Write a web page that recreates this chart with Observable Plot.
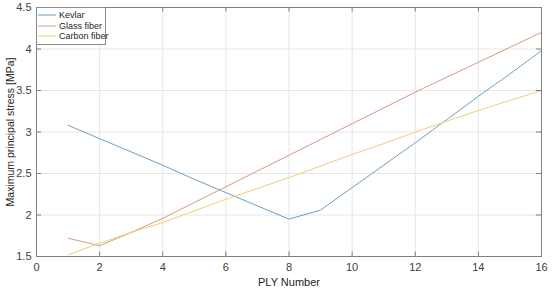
<!DOCTYPE html>
<html>
<head>
<meta charset="utf-8">
<script src="https://cdn.jsdelivr.net/npm/d3@7"></script>
<script src="https://cdn.jsdelivr.net/npm/@observablehq/plot@0.6"></script>
<style>
  html, body { margin: 0; padding: 0; background: #fff; }
  #wrap { position: relative; width: 552px; height: 291px; font-family: "Liberation Sans", Arial, sans-serif; }
  #legend { position: absolute; left: 36px; top: 7px; width: 70px; box-sizing: border-box; background: #fff; border: 1px solid #8a8a8a; font-size: 9px; color: #262626; padding: 2px 0 2px 0; white-space: nowrap; }
  .item { display: flex; align-items: center; height: 10.5px; }
  .item svg { width: 18px; height: 8px; margin: 0 3px 0 1px; flex: none; }
</style>
</head>
<body>
<div id="wrap"></div>
<script>
const plyNumbers = [1,2,3,4,5,6,7,8,9,10,11,12,13,14,15,16];
const kevlar  = [3.08,2.92,2.76,2.60,2.43,2.27,2.11,1.95,2.06,2.33,2.60,2.87,3.15,3.43,3.70,3.98];
const glass   = [1.72,1.63,1.79,1.96,2.15,2.34,2.53,2.72,2.91,3.10,3.29,3.48,3.66,3.84,4.02,4.20];
const carbon  = [1.52,1.66,1.79,1.91,2.05,2.19,2.32,2.45,2.59,2.73,2.86,3.00,3.13,3.26,3.38,3.50];
const seriesNames = ["Kevlar","Glass fiber","Carbon fiber"];
const seriesColors = ["#6aa0c8","#d99a80","#efcf78"];
const xTicks = [0,2,4,6,8,10,12,14,16];
const yTicks = [1.5,2,2.5,3,3.5,4,4.5];

const rows = [];
[kevlar, glass, carbon].forEach((vals, s) => {
  plyNumbers.forEach((p, i) => rows.push({ply: p, stress: vals[i], series: seriesNames[s]}));
});

const gridColor = "#e6e6e6";
const chart = Plot.plot({
  width: 552,
  height: 291,
  marginLeft: 36,
  marginRight: 11,
  marginTop: 7,
  marginBottom: 35,
  style: {fontFamily: "'Liberation Sans', Arial, sans-serif", fontSize: "11px", color: "#404040", background: "#fff"},
  x: {domain: [0, 16], label: null},
  y: {domain: [1.5, 4.5], label: null},
  color: {domain: seriesNames, range: seriesColors},
  marks: [
    Plot.ruleX(xTicks, {x: d => d, stroke: gridColor, strokeWidth: 1}),
    Plot.ruleY(yTicks, {y: d => d, stroke: gridColor, strokeWidth: 1}),
    Plot.line(rows, {x: "ply", y: "stress", z: "series", stroke: "series", strokeWidth: 1}),
    Plot.frame({stroke: "#808080", strokeWidth: 1}),
    Plot.ruleX(xTicks, {x: d => d, y1: 1.5, y2: 1.555, stroke: "#808080"}),
    Plot.ruleX(xTicks, {x: d => d, y1: 4.445, y2: 4.5, stroke: "#808080"}),
    Plot.ruleY(yTicks, {y: d => d, x1: 0, x2: 0.16, stroke: "#808080"}),
    Plot.ruleY(yTicks, {y: d => d, x1: 15.84, x2: 16, stroke: "#808080"}),
    Plot.axisX(xTicks, {tickSize: 0, tickPadding: 7, fill: "#404040", fontSize: 11, label: null}),
    Plot.axisY(yTicks, {tickSize: 0, tickPadding: 5, fill: "#404040", fontSize: 11, label: null, tickFormat: d => String(d)}),
    Plot.text(["PLY Number"], {frameAnchor: "bottom", dy: 29, fill: "#262626", fontSize: 11}),
    Plot.text(["Maximum principal stress [MPa]"], {frameAnchor: "left", textAnchor: "middle", dx: -26, rotate: -90, fill: "#262626", fontSize: 10.5})
  ]
});
const wrap = document.getElementById("wrap");
wrap.appendChild(chart);

const legend = document.createElement("div");
legend.id = "legend";
seriesNames.forEach((name, i) => {
  const it = document.createElement("div");
  it.className = "item";
  it.innerHTML = `<svg viewBox="0 0 18 8"><line x1="0" y1="4" x2="18" y2="4" stroke="${seriesColors[i]}" stroke-width="1"/></svg><span>${name}</span>`;
  legend.appendChild(it);
});
wrap.appendChild(legend);
</script>
</body>
</html>
